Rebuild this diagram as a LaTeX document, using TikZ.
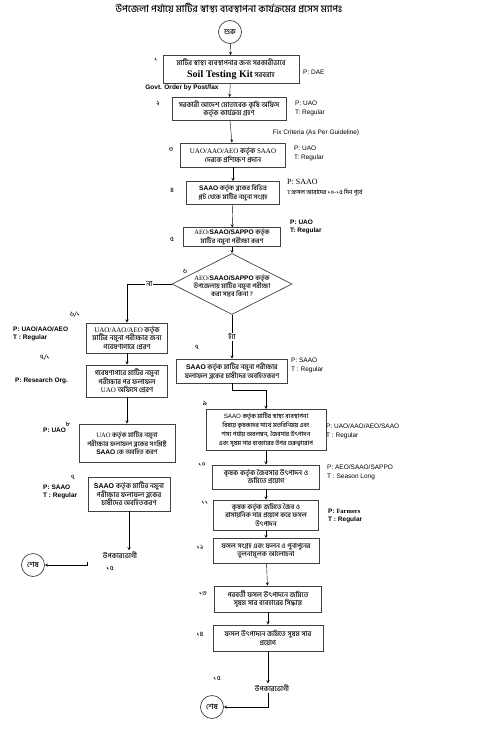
\documentclass[tikz,border=0pt]{standalone}
\usepackage{fontspec}
\setmainfont{Liberation Serif}
\setsansfont{Liberation Sans}
\newfontfamily\bn[Script=Bengali]{Hind Siliguri Medium}
\usetikzlibrary{positioning,calc,arrows.meta,shapes.geometric}
\tikzset{>=stealth}
\newcommand\bsf[1]{{\sffamily\bfseries #1}}
\newcommand\bsz[1]{\fontsize{#1}{8.6}\selectfont}
\tikzset{
  stepbox/.style={draw=black!75,line width=.9pt,align=center,inner sep=1pt,
    font=\bn\fontsize{7}{8.6}\selectfont},
  info/.style={anchor=west,align=left,inner sep=0pt,
    font=\sffamily\fontsize{6.5}{8.5}\selectfont},
  infob/.style={info,font=\sffamily\bfseries\fontsize{6.5}{8.5}\selectfont},
  num/.style={inner sep=0pt,font=\bn\fontsize{6.5}{7}\selectfont},
  term/.style={draw=black!75,circle,line width=.7pt,minimum size=23pt,inner sep=0pt,
    font=\bn\fontsize{7.5}{8}\selectfont},
  dia/.style={draw=black!75,diamond,line width=.7pt,minimum width=120,minimum height=61,inner sep=0pt},
}
\begin{document}
\begin{tikzpicture}[x=1pt,y=-1pt]
\useasboundingbox (0,0) rectangle (479,733);
\node[font=\bn\fontsize{9.8}{10}\selectfont] (title) at (229,8) {উপজেলা পর্যায়ে মাটির স্বাস্থ্য ব্যবস্থাপনা কার্যক্রমের প্রসেস ম্যাপঃ};
\node[term] (start) at (230,32) {শুরু};
\node[stepbox,minimum width=136,minimum height=28] (b1) at (231,69.5)
  {মাটির স্বাস্থ্য ব্যবস্থাপনার জন্য সরকারীভাবে\\[3pt]{\rmfamily\bfseries\fontsize{10}{10}\selectfont Soil Testing Kit} সরবরাহ};
\node[stepbox,minimum width=114,minimum height=23] (b2) at (229,109)
  {সরকারী আদেশ মোতাবেক কৃষি অফিস\\কর্তৃক কার্যক্রম গ্রহণ};
\node[stepbox,minimum width=105,minimum height=24] (b3) at (233,155)
  {{\rmfamily UAO/AAO/AEO} কর্তৃক {\rmfamily SAAO}\\দেরকে প্রশিক্ষণ প্রদান};
\node[stepbox,minimum width=93,minimum height=23,font=\bn\bsz{6.6}] (b4) at (233,193)
  {\bsf{SAAO} কর্তৃক ব্লকের বিভিন্ন\\প্লট থেকে মাটির নমুনা সংগ্রহ};
\node[stepbox,minimum width=97,minimum height=17,font=\bn\fontsize{6.6}{7.6}\selectfont] (b5) at (232,237)
  {{\rmfamily AEO/}\bsf{SAAO/SAPPO} কর্তৃক\\মাটির নমুনা পরীক্ষা করণ};
\node[dia] (d6) at (232,284) {};
\node[align=center,inner sep=0pt,font=\bn\fontsize{6.6}{8.4}\selectfont] (d6txt) at (232,286)
  {{\rmfamily AEO/}\bsf{SAAO/SAPPO} কর্তৃক\\উপজেলায় মাটির নমুনা পরীক্ষা\\করা সম্ভব কিনা ?};
\node[stepbox,minimum width=81,minimum height=30] (b61) at (127,338)
  {{\rmfamily UAO/AAO/AEO} কর্তৃক\\মাটির নমুনা পরীক্ষার জন্য\\গবেষণাগারে প্রেরণ};
\node[stepbox,minimum width=81,minimum height=32] (b71) at (127,381)
  {গবেষণাগারে মাটির নমুনা\\পরীক্ষার পর ফলাফল\\{\rmfamily UAO} অফিসে প্রেরণ};
\node[stepbox,minimum width=96,minimum height=38,font=\bn\bsz{6.6}] (b8) at (127,443)
  {{\rmfamily UAO} কর্তৃক মাটির নমুনা\\পরীক্ষার ফলাফল ব্লকের সংশ্লিষ্ট\\\bsf{SAAO} কে অবহিত করণ};
\node[stepbox,minimum width=82,minimum height=34] (b7L) at (129,494)
  {\bsf{SAAO} কর্তৃক মাটির নমুনা\\পরীক্ষার ফলাফল ব্লকের\\চাষীদের অবহিতকরণ};
\node[font=\bn\fontsize{7}{7}\selectfont,inner sep=1pt] (ben1) at (120,555) {উপকারভোগী};
\node[term] (e1) at (33,565) {শেষ};
\coordinate (f1) at (87,562);
\node[stepbox,minimum width=111,minimum height=24,font=\bn\bsz{6.8}] (b7) at (232,371)
  {\bsf{SAAO} কর্তৃক মাটির নমুনা পরীক্ষার\\ফলাফল ব্লকের চাষীদের অবহিতকরণ};
\node[stepbox,minimum width=120,minimum height=41,font=\bn\fontsize{6.2}{9}\selectfont] (b9) at (266,430)
  {{\sffamily SAAO} কর্তৃক মাটির স্বাস্থ্য ব্যবস্থাপনা\\বিষয়ে কৃষকদের সাথে মতবিনিময় এবং\\শস্য পর্যায় অবলম্বন, জৈবসার উৎপাদন\\এবং সুষম সার ব্যবহারের উপর গুরুত্বারোপ};
\node[stepbox,minimum width=107,minimum height=24] (b10) at (266,477)
  {কৃষক কর্তৃক জৈবসার উৎপাদন ও\\জমিতে প্রয়োগ};
\node[stepbox,minimum width=105,minimum height=30,font=\bn\bsz{6.7}] (b11) at (266,515)
  {কৃষক কর্তৃক জমিতে জৈব ও\\রাসায়নিক সার প্রয়োগ করে ফসল\\উৎপাদন};
\node[stepbox,minimum width=106,minimum height=25,font=\bn\bsz{6.8}] (b12) at (266,551)
  {ফসল সংগ্রহ এবং ফলন ও পুনাপুনের\\তুলনামূলক আলোচনা};
\node[stepbox,minimum width=107,minimum height=26] (b13) at (268,599)
  {পরবর্তী ফসল উৎপাদনে জমিতে\\সুষম সার ব্যবহারের সিদ্ধান্ত};
\node[stepbox,minimum width=110,minimum height=26] (b14) at (268,638)
  {ফসল উৎপাদনে জমিতে সুষম সার\\প্রয়োগ};
\node[font=\bn\fontsize{7}{7}\selectfont,inner sep=1pt] (ben2) at (272,688) {উপকারভোগী};
\node[term] (e2) at (212,707) {শেষ};
\node[num] (n1) at (156,60) {১};
\node[num] (n2) at (158,104) {২};
\node[num] (n3) at (171,150) {৩};
\node[num] (n4) at (172,190) {৪};
\node[num] (n5) at (172,239) {৫};
\node[num] (n6) at (185,271) {৬};
\node[num] (n61) at (75,315) {৬/১};
\node[num] (n71) at (45,358) {৭/১};
\node[num] (n8) at (68,424) {৮};
\node[num] (n7L) at (73,477) {৭};
\node[num] (n15L) at (110,568) {১৫};
\node[num] (n7) at (197,347) {৭};
\node[num] (n9) at (205,403) {৯};
\node[num] (n10) at (202,465) {১০};
\node[num] (n11) at (205,503) {১১};
\node[num] (n12) at (200,548) {১২};
\node[num] (n13) at (203,594) {১৩};
\node[num] (n14) at (200,634) {১৪};
\node[num] (n15) at (217,678) {১৫};
\node[info] (l1) at (303,72) {P: DAE};
\node[infob,anchor=center] (gov) at (182,88) {Govt. Order by Post/fax};
\node[info] (l2) at (295,108.5) {P: UAO\\T: Regular};
\node[info,anchor=center] (fix) at (316,133) {Fix Criteria (As Per Guideline)};
\node[info] (l3) at (294,153.5) {P: UAO\\T: Regular};
\node[info,font=\rmfamily\fontsize{8}{10}\selectfont] (l4) at (287,188)
  {P: SAAO\\{\fontsize{6}{7}\selectfont T:{\bn ফসল আবাদের ১০-১৫ দিন পূর্বে}}};
\node[infob] (l5) at (290,227) {P: UAO\\T: Regular};
\node[infob] (l61) at (13,334) {P: UAO/AAO/AEO\\T : Regular};
\node[infob] (l71) at (15,381) {P: Research Org.};
\node[infob] (l8) at (43,430) {P: UAO};
\node[infob] (l7L) at (43,492) {P: SAAO\\T : Regular};
\node[info] (l7) at (291,365.5) {P: SAAO\\T : Regular};
\node[info] (l9) at (326,431.5) {P: UAO/AAO/AEO/SAAO\\T : Regular};
\node[info] (l10) at (327,472.5) {P: AEO/SAAO/SAPPO\\T : Season Long};
\node[infob] (l11) at (328,516) {P: {\rmfamily Farmers}\\T : Regular};
\draw[->] (start) -- (b1);
\draw[->] (b1) -- (b2);
\draw[->] (b2) -- (b3);
\draw[->] (b3) -- (b4);
\draw[->] (b4) -- (b5);
\draw[->] (b5) -- (d6.north);
\draw[->] (d6.west) -| node[pos=.25,fill=white,inner sep=1pt,font=\bn\fontsize{7}{7}\selectfont] {না} (b61.north);
\draw[->] (d6.south) -- node[fill=white,inner sep=1pt,font=\bn\fontsize{7}{7}\selectfont] {হ্যাঁ} (b7.north);
\draw[->] (b61) -- (b71);
\draw[->] (b71) -- (b8);
\draw[->] (b7L.south) -- (b7L.south |- ben1.north);
\draw[->] (f1) |- (e1);
\draw[->] (b7.south) -- ++(0,7) -| (b9.north);
\draw[->] (b9) -- (b10);
\draw[->] (b10) -- (b11);
\draw[->] (b11) -- (b12);
\draw[->] (b12) -- (b13);
\draw[->] (b13) -- (b14);
\draw[->] (b14.south) -- (b14.south |- ben2.north);
\draw[->] (b14.south |- ben2.south) |- (e2);
\end{tikzpicture}
\end{document}
